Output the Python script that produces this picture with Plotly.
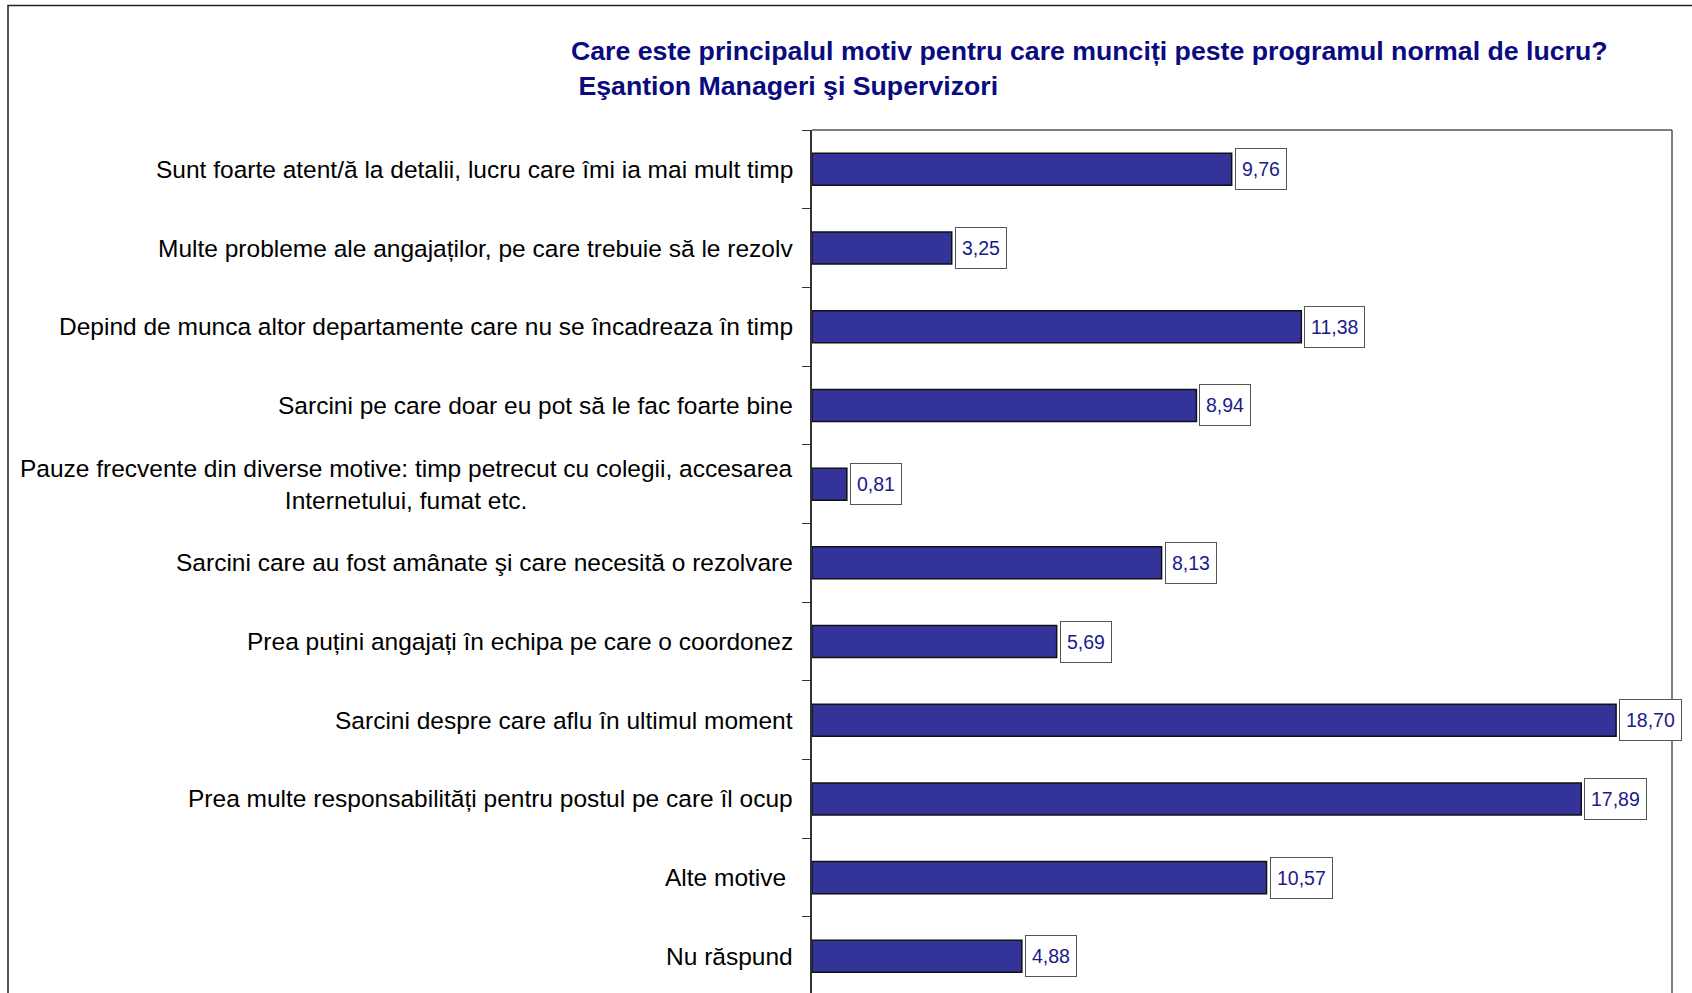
import plotly.graph_objects as go

# Survey answers (percent), top to bottom
categories = [
    "Sunt foarte atent/ă la detalii, lucru care îmi ia mai mult timp",
    "Multe probleme ale angajaților, pe care trebuie să le rezolv",
    "Depind de munca altor departamente care nu se încadreaza în timp",
    "Sarcini pe care doar eu pot să le fac foarte bine",
    "Pauze frecvente din diverse motive: timp petrecut cu colegii, accesarea<br>Internetului, fumat etc.",
    "Sarcini care au fost amânate şi care necesită o rezolvare",
    "Prea puțini angajați în echipa pe care o coordonez",
    "Sarcini despre care aflu în ultimul moment",
    "Prea multe responsabilități pentru postul pe care îl ocup",
    "Alte motive ",
    "Nu răspund",
]
values = [9.76, 3.25, 11.38, 8.94, 0.81, 8.13, 5.69, 18.70, 17.89, 10.57, 4.88]

title_lines = [
    "Care este principalul motiv pentru care munciți peste programul normal de lucru?",
    "\u00a0Eşantion Manageri şi Supervizori",
]

W, H = 1692, 993
ML, MR, MT, MB = 812, 20, 130, 0
PW, PH = W - ML - MR, H - MT - MB

FONT = "Arial, Liberation Sans, sans-serif"
BAR = "#333399"
NAVY = "#0b0b80"

idx = list(range(len(categories)))

fig = go.Figure()
fig.add_trace(go.Bar(
    x=values,
    y=idx,
    orientation="h",
    marker=dict(color=BAR, line=dict(color="#111111", width=1.5)),
    hoverinfo="skip",
))

annotations = []
# value boxes
for i, v in zip(idx, values):
    annotations.append(dict(
        x=v, y=i, xref="x", yref="y",
        text=f"{v:.2f}".replace(".", ","),
        showarrow=False, xanchor="left", yanchor="middle", xshift=3,
        font=dict(family=FONT, size=19.5, color="#1a1a8c"),
        bgcolor="white", bordercolor="#555555", borderwidth=1, borderpad=6,
        height=28,
    ))
# category labels
for i, c in zip(idx, categories):
    annotations.append(dict(
        x=0, y=i, xref="paper", yref="y",
        text=c, showarrow=False, xanchor="right", yanchor="middle",
        xshift=-17, align="center",
        font=dict(family=FONT, size=24.5, color="black"),
    ))
# title
annotations.append(dict(
    x=(569 - ML) / PW, y=(H - 68) / PH, xref="paper", yref="paper",
    text="<br>".join(f"<b>{t}</b>" for t in title_lines),
    showarrow=False, xanchor="left", yanchor="middle", align="left",
    font=dict(family=FONT, size=26.7, color=NAVY),
))

shapes = [
    # outer frame
    dict(type="rect", xref="paper", yref="paper",
         x0=(8 - ML) / PW, x1=(W + 20 - ML) / PW,
         y0=-0.05, y1=(H - 5.5) / PH,
         line=dict(color="#222222", width=1.5), fillcolor="rgba(0,0,0,0)", layer="below"),
    # top edge of plot area
    dict(type="line", xref="paper", yref="paper", x0=0, x1=1, y0=1, y1=1,
         line=dict(color="#555555", width=1.5)),
    # right edge of plot area
    dict(type="line", xref="paper", yref="paper", x0=1, x1=1, y0=0, y1=1,
         line=dict(color="#555555", width=1.5)),
]

fig.update_layout(
    width=W, height=H,
    margin=dict(l=ML, r=MR, t=MT, b=MB),
    paper_bgcolor="white", plot_bgcolor="white",
    showlegend=False,
    bargap=0.593,
    annotations=annotations,
    shapes=shapes,
    xaxis=dict(range=[0, 20], showgrid=False, zeroline=False, showline=False,
               showticklabels=False, ticks=""),
    yaxis=dict(type="linear", range=[10.466, -0.5], showgrid=False, zeroline=False,
               showline=True, linecolor="#333333", linewidth=2,
               tickmode="array", tickvals=[i - 0.5 for i in range(len(categories) + 1)],
               ticktext=["" for _ in range(len(categories) + 1)],
               ticks="outside", ticklen=8, tickwidth=1, tickcolor="#333333"),
)

fig.write_html("out.html")
